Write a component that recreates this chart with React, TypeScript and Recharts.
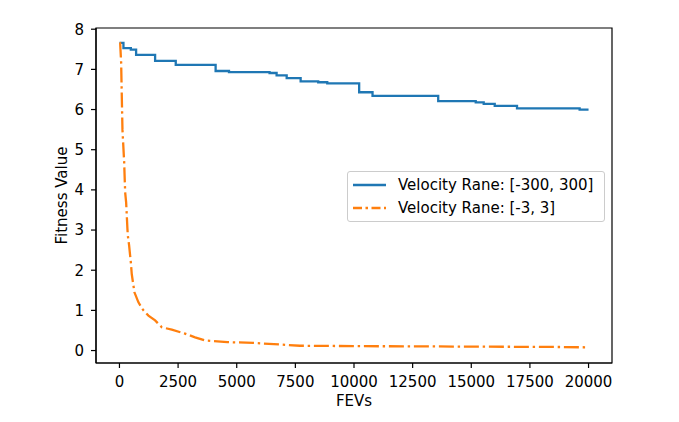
import React from 'react';
import { LineChart, Line, XAxis, YAxis, Label, ReferenceArea } from 'recharts';

const X_TICKS = [0, 2500, 5000, 7500, 10000, 12500, 15000, 17500, 20000];
const Y_TICKS = [0, 1, 2, 3, 4, 5, 6, 7, 8];
const X_DOMAIN = [-1000, 21000];
const Y_DOMAIN = [-0.31, 8.03];

// wide velocity range: best fitness so far, changes in steps
const WIDE_FEVS = [0, 170, 485, 710, 1520, 2400, 4100, 4670, 6400, 6700, 7130, 7725, 8475, 8860, 10220, 10790, 13590, 15190, 15530, 16000, 16950, 19620, 20000];
const WIDE_FIT = [7.66, 7.53, 7.49, 7.36, 7.21, 7.11, 6.96, 6.93, 6.91, 6.85, 6.78, 6.7, 6.68, 6.65, 6.43, 6.34, 6.21, 6.18, 6.14, 6.09, 6.03, 6.0, 6.0];

// narrow velocity range
const NARROW_FEVS = [0, 30, 72, 128, 200, 243, 285, 340, 358, 413, 456, 485, 525, 639, 809, 1022, 1235, 1520, 1806, 2232, 2798, 3224, 3650, 4600, 5707, 6843, 7695, 9965, 14225, 18485, 20000];
const NARROW_FIT = [7.66, 7.65, 7.17, 5.5, 4.7, 3.94, 3.69, 3.03, 2.86, 2.61, 2.36, 2.2, 1.9, 1.45, 1.2, 1.0, 0.87, 0.75, 0.58, 0.52, 0.42, 0.33, 0.25, 0.21, 0.19, 0.15, 0.12, 0.11, 0.1, 0.09, 0.08];

const wide = WIDE_FEVS.map((x, i) => ({ x, y: WIDE_FIT[i] }));
const narrow = NARROW_FEVS.map((x, i) => ({ x, y: NARROW_FIT[i] }));

const BLUE = '#1f77b4';
const ORANGE = '#ff7f0e';
const FONT = '"DejaVu Sans", sans-serif';
const tickStyle = { fontSize: 15, fill: '#000', fontFamily: FONT };

const LegendBox = () => (
  <div
    style={{
      position: 'absolute', left: 347, top: 171, width: 256, height: 49,
      border: '1px solid #cccccc', borderRadius: 3, background: 'rgba(255,255,255,0.8)',
      fontFamily: FONT, fontSize: 15, color: '#000',
    }}
  >
    {[
      { name: 'Velocity Rane: [-300, 300]', color: BLUE, dash: undefined },
      { name: 'Velocity Rane: [-3, 3]', color: ORANGE, dash: '9 3.5 2.5 3.5' },
    ].map((it, i) => (
      <div key={i} style={{ position: 'absolute', left: 5, top: 3 + i * 22.7, height: 20, display: 'flex', alignItems: 'center' }}>
        <svg width={33} height={10}>
          <line x1={0} y1={5} x2={33} y2={5} stroke={it.color} strokeWidth={2.3} strokeDasharray={it.dash} />
        </svg>
        <span style={{ marginLeft: 12, whiteSpace: 'nowrap' }}>{it.name}</span>
      </div>
    ))}
  </div>
);

export default function App() {
  return (
    <div style={{ position: 'absolute', left: 0, top: 0, width: 679, height: 422, background: '#fff' }}>
      <LineChart width={679} height={422} margin={{ top: 28, right: 67, left: 36, bottom: 19 }}>
        <XAxis
          type="number" dataKey="x" domain={X_DOMAIN} ticks={X_TICKS} allowDataOverflow
          height={40} tickSize={5} tickMargin={8} tick={tickStyle}
          stroke="#000" strokeWidth={1.2}
        >
          <Label value="FEVs" position="insideBottom" offset={-3} style={{ fontSize: 15, fill: '#000', fontFamily: FONT }} />
        </XAxis>
        <YAxis
          type="number" domain={Y_DOMAIN} ticks={Y_TICKS} allowDataOverflow
          width={60} tickSize={5} tickMargin={7} tick={tickStyle}
          stroke="#000" strokeWidth={1.2}
        >
          <Label value="Fitness Value" angle={-90} position="insideLeft" offset={26} style={{ fontSize: 15, fill: '#000', fontFamily: FONT, textAnchor: 'middle' }} />
        </YAxis>
        <ReferenceArea
          x1={X_DOMAIN[0]} x2={X_DOMAIN[1]} y1={Y_DOMAIN[0]} y2={Y_DOMAIN[1]}
          fill="none" fillOpacity={0} stroke="#000" strokeWidth={1.2} ifOverflow="visible"
        />
        <Line data={wide} dataKey="y" type="stepAfter" stroke={BLUE} strokeWidth={2.3} dot={false} isAnimationActive={false} />
        <Line data={narrow} dataKey="y" type="linear" stroke={ORANGE} strokeWidth={2.3} strokeDasharray="15 3.8 2.4 3.8" dot={false} isAnimationActive={false} />
      </LineChart>
      <LegendBox />
    </div>
  );
}
